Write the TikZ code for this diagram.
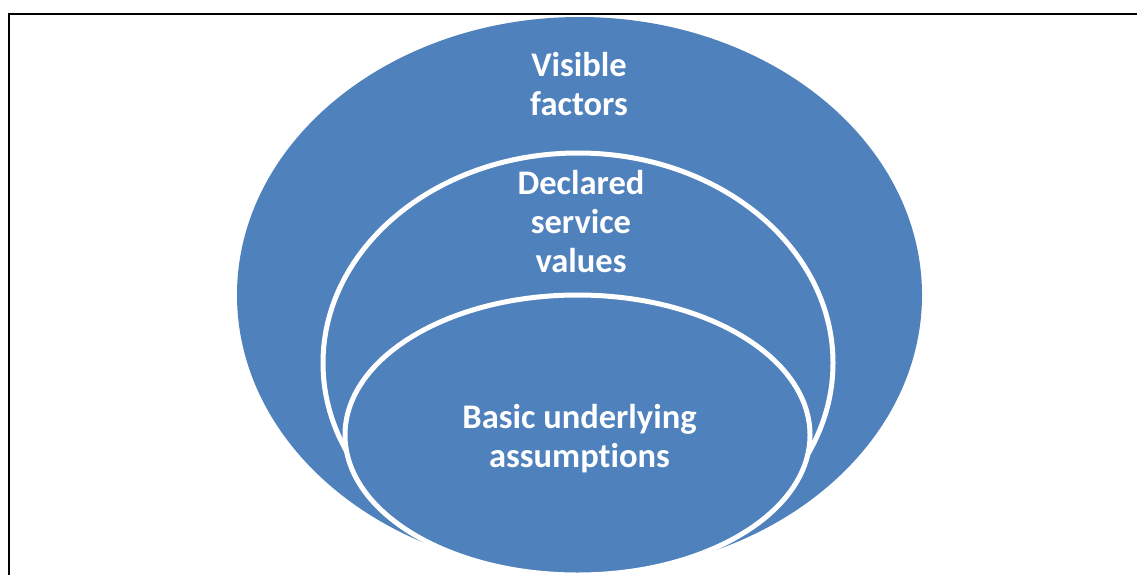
\documentclass[tikz,border=0pt]{standalone}
\usepackage{fontspec}
\setmainfont[Ligatures={NoCommon}]{Carlito}
\definecolor{ringblue}{HTML}{4F81BD}

\begin{document}
\begin{tikzpicture}[x=1pt,y=-1pt,
  ring/.style={fill=ringblue,draw=white,line width=5pt},
  ringtext/.style={text=white,font=\bfseries\fontsize{34.5}{39}\selectfont,align=center}]
\useasboundingbox (0,0) rectangle (1137,575);
\clip (0,0) rectangle (1137,575);
\draw[line width=1.5pt] (9,575) -- (9,14) -- (1137,14);
% outer, middle and inner layers
\fill[ringblue] (579.5,295) ellipse [x radius=342.5,y radius=278];
\draw[ring] (578,363) ellipse [x radius=255,y radius=210];
\draw[ring] (577.5,435) ellipse [x radius=232.5,y radius=140];
\node[ringtext] (visible) at (579,84) {Visible\\factors};
\node[ringtext] (declared) at (581,222) {Declared\\service\\values};
\node[ringtext] (basic) at (579.5,439) {Basic underlying\\assumptions};
\end{tikzpicture}
\end{document}
